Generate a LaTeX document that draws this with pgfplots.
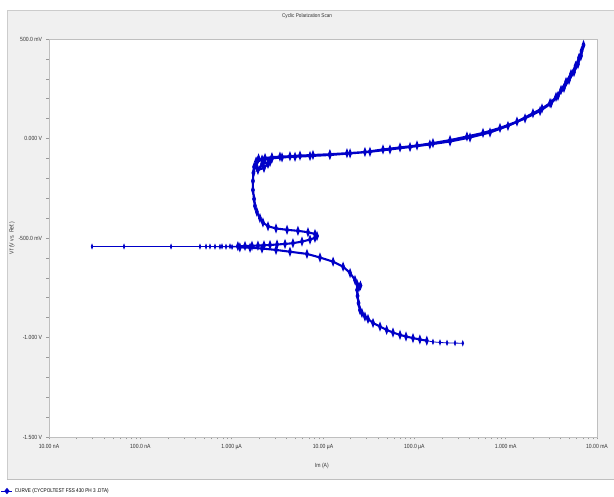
\documentclass[border=0pt]{standalone}
\usepackage{pgfplots}
\pgfplotsset{compat=1.18}
\usepackage{fontspec}
\setmainfont{Liberation Sans}[FakeStretch=0.85]
\definecolor{panel}{RGB}{240,240,240}
\definecolor{curve}{RGB}{0,0,200}
\begin{document}
\begin{tikzpicture}[x=1bp,y=1bp]
\useasboundingbox (0,0) rectangle (614,497);
\fill[white] (0,0) rectangle (614,497);
\fill[panel] (7,18) rectangle (614,487);
\draw[black!25, line width=0.8bp] (7,18) -- (614,18);
\draw[black!20, line width=0.6bp] (7,18) -- (7,487) -- (614,487);
\begin{axis}[
  at={(49bp,60bp)}, anchor=south west,
  scale only axis, width=548bp, height=398bp,
  xmode=log, xmin=1e-8, xmax=1e-2, ymin=-1.5, ymax=0.5,
  axis background/.style={fill=white},
  axis line style={black!25},
  tick align=outside, major tick length=2.5bp, minor tick length=2.5bp,
  xtick pos=bottom, ytick pos=left,
  tick style={black!40, line width=0.5bp},
  xtick={1e-8,1e-7,1e-6,1e-5,1e-4,1e-3,1e-2},
  xticklabels={10.00 nA,100.0 nA,1.000 µA,10.00 µA,100.0 µA,1.000 mA,10.00 mA},
  ytick={-1.5,-1,-0.5,0,0.5},
  yticklabels={-1.500 V,-1.000 V,-500.0 mV,0.000 V,500.0 mV},
  minor y tick num=4,
  ticklabel style={font=\fontsize{6}{7}\selectfont, text=black!80},
  xticklabel style={yshift=-1.5bp},
  yticklabel style={xshift=-1bp},
  xlabel={Im (A)}, ylabel={Vf (V vs. Ref.)},
  xlabel style={font=\fontsize{6}{7}\selectfont, text=black!80, at={(axis description cs:0.498,-0.0729)}, anchor=center},
  ylabel style={font=\fontsize{6}{7}\selectfont, text=black!80, at={(axis description cs:-0.0675,0.5)}, anchor=center},
  title={Cyclic Polarization Scan},
  title style={font=\fontsize{5.5}{6}\selectfont, text=black!80, at={(axis description cs:0.471,1.0427)}, anchor=center},
  legend style={at={(axis description cs:-0.0876,-0.1357)}, anchor=west, draw=none, fill=none, font=\fontsize{5.5}{6}\selectfont, inner sep=0pt},
  legend cell align=left,
  legend image code/.code={\draw[curve, line width=0.6pt] (0bp,0bp) -- (11bp,0bp); \fill[curve] (5.5bp,2.6bp) -- (7.6bp,0bp) -- (5.5bp,-2.6bp) -- (3.4bp,0bp) -- cycle;},
]
% thin part around the corrosion potential
\addplot[color=curve, line width=0.7pt, mark=diamond*, mark size=2.2pt, mark options={xscale=0.5, solid}] coordinates {
(1.23e-6,-0.547) (1.01e-6,-0.545) (8.67e-7,-0.544) (7.45e-7,-0.5437) (6.57e-7,-0.5435) (5.24e-7,-0.5433)
(4.50e-7,-0.5431) (2.17e-7,-0.5430) (6.63e-8,-0.5429) (2.96e-8,-0.5428)
(5.79e-7,-0.5427) (7.84e-7,-0.5422) (9.59e-7,-0.5417) (1.17e-6,-0.5412)
};
\addlegendentry{CURVE (CYCPOLTEST FSS 430 PH 3 .DTA)}
% start of the scan (sparse points)
\addplot[color=curve, line width=0.8pt, mark=diamond*, mark size=2.2pt, mark options={xscale=0.5, solid}, forget plot] coordinates {
(3.39e-4,-1.029) (2.79e-4,-1.028) (2.28e-4,-1.027) (1.91e-4,-1.025) (1.60e-4,-1.022)
(1.37e-4,-1.016)
};
% cathodic branch
\addplot[color=curve, line width=2.1pt, mark=diamond*, mark size=2.2pt, mark options={xscale=0.5, solid}, forget plot] coordinates {
(1.37e-4,-1.016) (1.15e-4,-1.010) (9.67e-5,-1.003) (8.11e-5,-0.995) (6.97e-5,-0.987)
(5.84e-5,-0.975) (4.98e-5,-0.962) (4.21e-5,-0.945) (3.53e-5,-0.927) (3.11e-5,-0.907)
(2.88e-5,-0.895) (2.67e-5,-0.877) (2.54e-5,-0.862) (2.45e-5,-0.827) (2.39e-5,-0.791)
(2.36e-5,-0.761) (2.48e-5,-0.746) (2.57e-5,-0.739) (2.36e-5,-0.731) (2.24e-5,-0.711)
(1.98e-5,-0.676) (1.66e-5,-0.644) (1.29e-5,-0.619) (9.27e-6,-0.598) (6.68e-6,-0.580)
(4.35e-6,-0.569) (3.06e-6,-0.560) (2.15e-6,-0.553) (1.59e-6,-0.549) (1.23e-6,-0.547)
};
% anodic branch, forward and reverse scan
\addplot[color=curve, line width=2.1pt, mark=diamond*, mark size=2.2pt, mark options={xscale=0.5, solid}, forget plot] coordinates {
(1.17e-6,-0.5412) (1.40e-6,-0.5402)
(1.67e-6,-0.5392) (1.94e-6,-0.5382) (2.26e-6,-0.5367) (2.63e-6,-0.5352) (3.14e-6,-0.5327)
(3.84e-6,-0.530) (4.69e-6,-0.526) (5.89e-6,-0.518) (7.21e-6,-0.508) (8.17e-6,-0.499)
(8.60e-6,-0.490) (8.17e-6,-0.480) (6.85e-6,-0.471) (5.32e-6,-0.464) (4.04e-6,-0.459)
(3.06e-6,-0.452) (2.50e-6,-0.441) (2.20e-6,-0.422) (2.04e-6,-0.400) (1.89e-6,-0.369)
(1.80e-6,-0.339) (1.76e-6,-0.304) (1.71e-6,-0.259) (1.71e-6,-0.214) (1.73e-6,-0.173)
(1.76e-6,-0.143) (1.85e-6,-0.116) (1.97e-6,-0.100) (2.20e-6,-0.111) (2.50e-6,-0.128)
(2.26e-6,-0.148) (1.94e-6,-0.158) (2.15e-6,-0.128) (2.63e-6,-0.118) (2.32e-6,-0.098)
(2.76e-6,-0.094) (3.38e-6,-0.091) (4.35e-6,-0.089) (5.60e-6,-0.086) (7.77e-6,-0.083)
(1.19e-5,-0.079) (1.83e-5,-0.074) (2.88e-5,-0.068) (4.54e-5,-0.055) (6.97e-5,-0.045)
(1.07e-4,-0.035) (1.60e-4,-0.023) (2.46e-4,-0.008) (3.77e-4,0.010) (5.65e-4,0.028)
(8.67e-4,0.053) (1.33e-3,0.085) (1.99e-3,0.127) (2.50e-3,0.151) (3.06e-3,0.178)
(3.56e-3,0.209) (4.04e-3,0.244) (4.58e-3,0.284) (5.19e-3,0.324) (5.82e-3,0.364)
(6.35e-3,0.405) (6.77e-3,0.440) (7.12e-3,0.470)
(6.68e-3,0.415) (6.19e-3,0.374) (5.60e-3,0.334) (4.94e-3,0.294) (4.35e-3,0.254)
(3.74e-3,0.214) (3.14e-3,0.176) (2.38e-3,0.138) (1.63e-3,0.101) (1.06e-3,0.063)
(6.74e-4,0.030) (4.07e-4,0.005) (2.46e-4,-0.015) (1.48e-4,-0.030) (8.97e-5,-0.043)
(5.41e-5,-0.055) (3.27e-5,-0.067) (1.98e-5,-0.075) (1.19e-5,-0.083) (7.21e-6,-0.088)
(4.94e-6,-0.092) (3.56e-6,-0.095) (2.76e-6,-0.100) (2.15e-6,-0.106) (1.89e-6,-0.118)
(1.85e-6,-0.138)
};
\end{axis}
\end{tikzpicture}
\end{document}
